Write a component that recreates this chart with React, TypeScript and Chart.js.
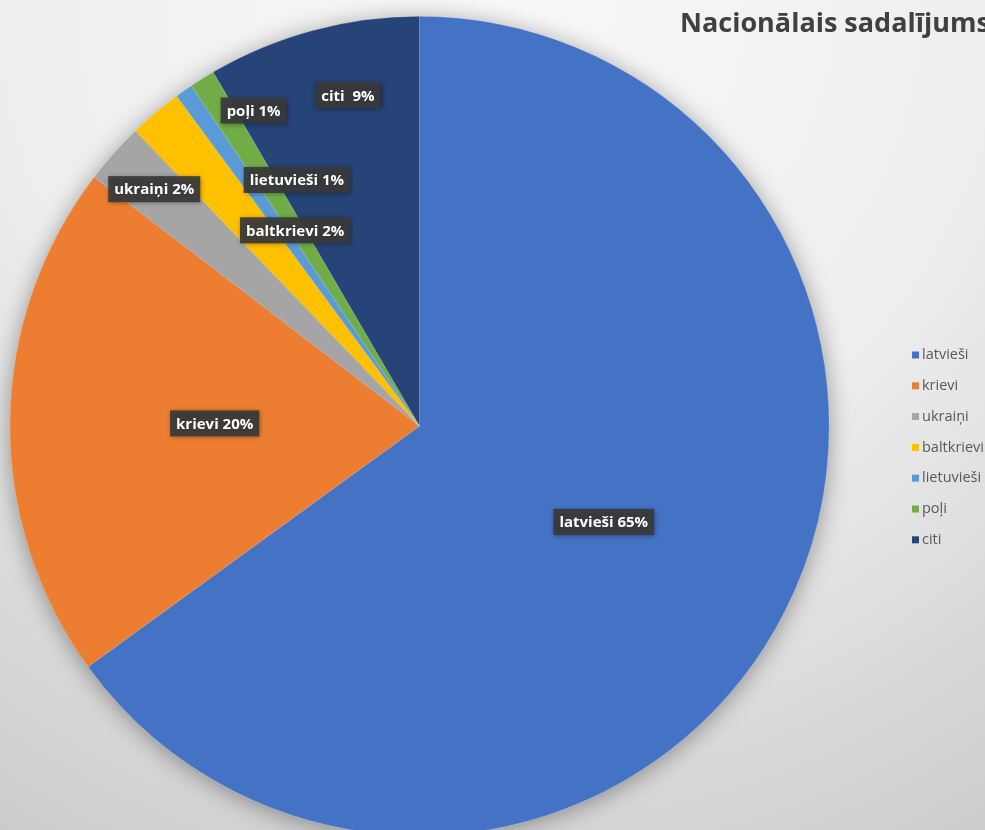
import React, { useEffect, useRef } from "react";
import { Chart, registerables } from "chart.js";

Chart.register(...registerables);

// ---- data ----
const categories = ["latvieši", "krievi", "ukraiņi", "baltkrievi", "lietuvieši", "poļi", "citi"];
const shares = [65.0, 20.4, 2.4, 2.1, 0.7, 1.0, 8.4];
const shownPercent = ["65%", "20%", "2%", "2%", "1%", "1%", " 9%"];
const titleText = "Nacionālais sadalījums";

// ---- styles ----
const sliceColors = ["#4472C4", "#ED7D31", "#A5A5A5", "#FFC000", "#5B9BD5", "#70AD47", "#264478"];
// label placement relative to each slice: angle offset (deg, clockwise) from mid-angle, radius fraction
const labelPlacement = [
  { dAngle: 0.5, rFrac: 0.507 },
  { dAngle: 0, rFrac: 0.5 },
  { dAngle: 0, rFrac: 0.868 },
  { dAngle: 7.7, rFrac: 0.566 },
  { dAngle: 8.6, rFrac: 0.671 },
  { dAngle: 4.3, rFrac: 0.87 },
  { dAngle: 2.9, rFrac: 0.826 },
];

const W = 985;
const H = 850;

const backgroundPlugin = {
  id: "bgPlugin",
  beforeDraw(chart: any) {
    const ctx = chart.ctx;
    ctx.save();
    const g = ctx.createRadialGradient(500, 0, 0, 500, 0, 1000);
    g.addColorStop(0, "#f8f8f8");
    g.addColorStop(0.5, "#eeeeee");
    g.addColorStop(1, "#c9c9c9");
    ctx.fillStyle = g;
    ctx.fillRect(0, 0, chart.width, chart.height);
    ctx.restore();
  },
  beforeDatasetsDraw(chart: any) {
    const meta = chart.getDatasetMeta(0);
    const arc = meta.data[0];
    if (!arc) return;
    const { x, y, outerRadius } = arc.getProps(["x", "y", "outerRadius"], true);
    const ctx = chart.ctx;
    ctx.save();
    ctx.shadowColor = "rgba(0,0,0,0.4)";
    ctx.shadowBlur = 24;
    ctx.shadowOffsetX = 0;
    ctx.shadowOffsetY = 3;
    ctx.beginPath();
    ctx.arc(x, y, outerRadius - 1, 0, Math.PI * 2);
    ctx.fillStyle = "#4472C4";
    ctx.fill();
    ctx.restore();
  },
};

const labelsPlugin = {
  id: "labelsPlugin",
  afterDatasetsDraw(chart: any) {
    const ctx = chart.ctx;
    const meta = chart.getDatasetMeta(0);
    ctx.save();
    ctx.font = "bold 15px 'Open Sans'";
    ctx.textAlign = "center";
    ctx.textBaseline = "middle";
    meta.data.forEach((arc: any, i: number) => {
      const { x, y, startAngle, endAngle, outerRadius } = arc.getProps(
        ["x", "y", "startAngle", "endAngle", "outerRadius"],
        true
      );
      const p = labelPlacement[i];
      const mid = (startAngle + endAngle) / 2 + (p.dAngle * Math.PI) / 180;
      const cx = x + Math.cos(mid) * outerRadius * p.rFrac;
      const cy = y + Math.sin(mid) * outerRadius * p.rFrac;
      const text = chart.data.labels[i] + " " + shownPercent[i];
      const tw = ctx.measureText(text).width;
      const bw = tw + 12;
      const bh = 26;
      ctx.save();
      ctx.shadowColor = "rgba(0,0,0,0.45)";
      ctx.shadowBlur = 5;
      ctx.shadowOffsetX = 1;
      ctx.shadowOffsetY = 1;
      ctx.fillStyle = "rgba(58,58,58,0.92)";
      ctx.fillRect(cx - bw / 2, cy - bh / 2, bw, bh);
      ctx.restore();
      ctx.fillStyle = "#ffffff";
      ctx.fillText(text, cx, cy + 1);
    });
    ctx.restore();
  },
  afterDraw(chart: any) {
    const ctx = chart.ctx;
    ctx.save();
    // title
    ctx.font = "bold 27px 'Open Sans'";
    ctx.fillStyle = "#404040";
    ctx.textAlign = "left";
    ctx.textBaseline = "alphabetic";
    ctx.fillText(titleText, 680, 32);
    // legend
    ctx.font = "14.5px 'Open Sans'";
    ctx.textBaseline = "middle";
    const labels = chart.data.labels as string[];
    const bg = chart.data.datasets[0].backgroundColor as string[];
    labels.forEach((lab, i) => {
      const yy = 355 + i * 30.8;
      ctx.fillStyle = bg[i];
      ctx.fillRect(912, yy - 3.5, 7, 7);
      ctx.fillStyle = "#595959";
      ctx.fillText(lab, 922, yy);
    });
    ctx.restore();
  },
};

export default function App() {
  const ref = useRef<HTMLCanvasElement | null>(null);
  useEffect(() => {
    if (!ref.current) return;
    const chart = new Chart(ref.current, {
      type: "pie",
      data: {
        labels: categories,
        datasets: [
          {
            data: shares,
            backgroundColor: sliceColors,
            borderColor: "rgba(255,255,255,0.35)",
            borderWidth: 0.6,
          },
        ],
      },
      options: {
        responsive: false,
        animation: false,
        layout: { padding: { left: 9.5, right: 155.5, top: 16, bottom: 14 } },
        plugins: {
          legend: { display: false },
          title: { display: false },
          tooltip: { enabled: false },
        },
      },
      plugins: [backgroundPlugin, labelsPlugin],
    });
    return () => chart.destroy();
  }, []);
  return (
    <div style={{ position: "fixed", left: 0, top: 0, width: W, height: 830, overflow: "hidden" }}>
      <canvas ref={ref} width={W} height={H} style={{ display: "block", width: W, height: H }} />
    </div>
  );
}
